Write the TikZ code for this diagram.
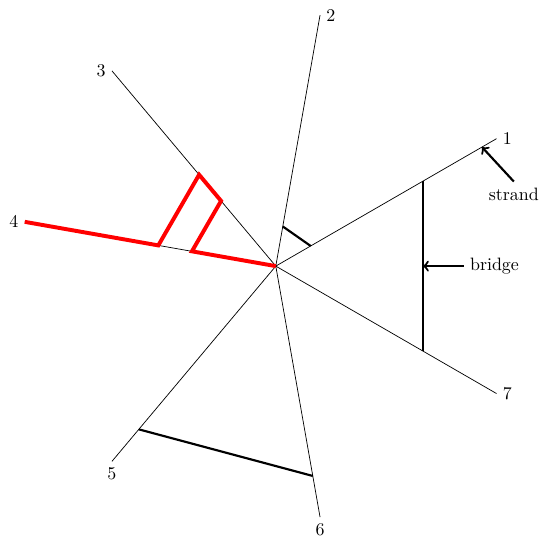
\documentclass[tikz,border=0pt]{standalone}
\begin{document}
\begin{tikzpicture}
      \useasboundingbox (-5.41,-5.51) rectangle (5.31,5.22);
      \coordinate (c) at (0,0);
      \draw
        (30:5) coordinate (e1) node[right] (1){1}
        (80:5) coordinate (e2) node[right] (2){2}
        (130:5) coordinate (e3) node[left] (3){3}
        (170:5) coordinate (e4) node[left] (4){4}
        (230:5) coordinate (e5) node[below] (5){5}
        (280:5) coordinate (e6) node[below] (6){6}
        (330:5) coordinate (e7) node[right] (7){7};
      \begin{scope}[-]
        \draw (c) to (e1);
        \draw (c) to (e2);
        \draw (c) to (e3);
        \draw (c) to (e4);
        \draw (c) to (e5);
        \draw (c) to (e6);
        \draw (c) to (e7);
      \end{scope}
      \draw
        (30:3.33) coordinate (b1)
        (330:3.33) coordinate (b7)
        (0:2.885) coordinate (bm)
        (80:0.79) coordinate (s2)
        (30:0.79) coordinate (s1)
        (230:4.18) coordinate (l5)
        (280:4.18) coordinate (l6)
        (30:4.67) coordinate (st);
      \begin{scope}[very thick]
        \draw (b1) to (b7);
        \draw (s2) to (s1);
        \draw (l5) to (l6);
      \end{scope}
      \draw
        (170:2.34) coordinate (r4)
        (130:2.34) coordinate (r3)
        (130:1.67) coordinate (q3)
        (170:1.67) coordinate (q4);
      \draw[red, line width=2.2pt] (e4) -- (r4) -- (r3) -- (q3) -- (q4) -- (c);
      \node (strand) at (4.67,1.41) {strand};
      \node (bridge) at (4.29,0) {bridge};
      \begin{scope}[->, very thick]
        \draw (strand.north) to (st);
        \draw (bridge.west) to (bm);
      \end{scope}
    \end{tikzpicture}
\end{document}
